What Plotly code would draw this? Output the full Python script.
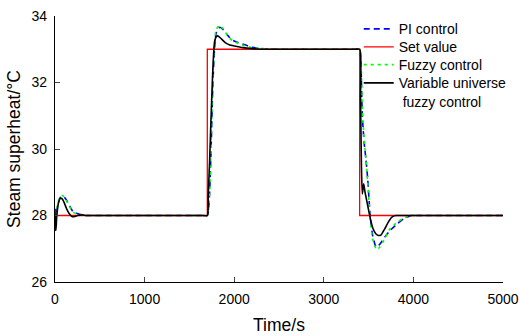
import plotly.graph_objects as go

# Set value
set_t = [0, 1700, 1700, 3400, 3400, 5000]
set_y = [28, 28, 33, 33, 28, 28]

# PI control
pi_t = [0, 10, 30, 60, 90, 120, 160, 200, 250, 300, 350, 400, 500, 1600, 1650, 1700,
        1720, 1740, 1760, 1780, 1800, 1840, 1880, 1950, 2000, 2100, 2200, 2300, 2400, 2500, 3300, 3350, 3400,
        3415, 3430, 3450, 3470, 3490, 3515, 3545, 3585, 3620, 3680, 3740, 3820, 3890, 3980, 4050, 4150, 5000]
pi_y = [28.0, 27.9, 28.3, 28.55, 28.57, 28.5, 28.3, 28.12, 28.06, 28.02, 28.0, 28.0, 28.0, 28.0, 28.0, 28.0,
        28.4, 29.8, 31.8, 33.0, 33.5, 33.66, 33.58, 33.35, 33.25, 33.15, 33.06, 33.02, 33.0, 33.0, 33.0, 33.0, 33.0,
        32.5, 31.0, 30.2, 29.7, 29.1, 28.1, 27.4, 27.05, 27.12, 27.35, 27.55, 27.75, 27.9, 28.0, 28.0, 28.0, 28.0]

# Fuzzy control
fz_t = [0, 10, 30, 60, 85, 120, 160, 200, 250, 300, 350, 400, 500, 1600, 1650, 1700,
        1720, 1740, 1760, 1780, 1800, 1840, 1880, 1950, 2000, 2100, 2200, 2300, 2400, 2500, 3300, 3350, 3400,
        3415, 3430, 3450, 3470, 3490, 3515, 3545, 3590, 3625, 3680, 3740, 3820, 3890, 3980, 4050, 4150, 5000]
fz_y = [28.0, 27.9, 28.35, 28.58, 28.6, 28.48, 28.28, 28.1, 28.05, 28.02, 28.0, 28.0, 28.0, 28.0, 28.0, 28.0,
        28.4, 29.9, 32.0, 33.2, 33.6, 33.72, 33.6, 33.33, 33.23, 33.12, 33.05, 33.02, 33.0, 33.0, 33.0, 33.0, 33.0,
        32.6, 31.2, 30.3, 29.7, 29.0, 28.0, 27.3, 26.97, 27.05, 27.3, 27.6, 27.8, 27.92, 28.0, 28.0, 28.0, 28.0]

# Variable universe fuzzy control
vu_t = [0, 5, 10, 20, 40, 60, 80, 100, 130, 160, 190, 220, 250, 300, 350, 400, 500, 1600, 1650, 1700,
        1710, 1725, 1740, 1760, 1780, 1800, 1820, 1850, 1900, 1950, 2000, 2100, 2200, 2300, 2400, 2500, 3300, 3350, 3400,
        3410, 3420, 3430, 3445, 3460, 3490, 3520, 3550, 3580, 3610, 3640, 3680, 3720, 3760, 3800, 3850, 3900, 4000, 5000]
vu_y = [28.2, 27.6, 27.55, 28.0, 28.4, 28.52, 28.5, 28.4, 28.2, 28.05, 27.97, 27.97, 28.0, 28.02, 28.0, 28.0, 28.0, 28.0, 28.0, 28.0,
        28.6, 29.6, 30.8, 32.3, 33.2, 33.38, 33.4, 33.33, 33.2, 33.13, 33.1, 33.05, 33.02, 33.0, 33.0, 33.0, 33.0, 33.0, 33.0,
        31.5, 29.5, 28.65, 28.95, 28.7, 28.3, 27.9, 27.6, 27.45, 27.4, 27.42, 27.6, 27.8, 27.95, 28.0, 28.0, 28.0, 28.0, 28.0]

x_ticks = [0, 1000, 2000, 3000, 4000, 5000]
y_ticks = [26, 28, 30, 32, 34]

fig = go.Figure()
fig.add_trace(go.Scatter(x=pi_t, y=pi_y, mode="lines", name="PI control", legend="legend",
                         line=dict(color="#0000ff", width=1.6, dash="6px,4px", shape="spline", smoothing=0.6)))
fig.add_trace(go.Scatter(x=set_t, y=set_y, mode="lines", name="Set value", legend="legend2",
                         line=dict(color="#ff0000", width=1.3)))
fig.add_trace(go.Scatter(x=fz_t, y=fz_y, mode="lines", name="Fuzzy control", legend="legend3",
                         line=dict(color="#00ff00", width=1.6, dash="3px,4px", shape="spline", smoothing=0.6)))
fig.add_trace(go.Scatter(x=vu_t, y=vu_y, mode="lines", name="Variable universe<br> fuzzy control", legend="legend4",
                         line=dict(color="#000000", width=1.6, shape="spline", smoothing=0.6)))

font_family = "Arial, Liberation Sans, sans-serif"
H = 266.0
def leg(ypx):
    # legend box top in paper coords from pixel position (plot area top at 16px)
    return dict(x=0.678, y=1 - (ypx - 16) / H, xanchor="left", yanchor="top", valign="top",
                bgcolor="rgba(0,0,0,0)", font=dict(size=14), tracegroupgap=0)

fig.update_layout(
    width=519, height=336,
    margin=dict(l=55, r=16, t=16, b=54, autoexpand=False),
    paper_bgcolor="white", plot_bgcolor="white",
    font=dict(family=font_family, size=14, color="black"),
    showlegend=True,
    legend=leg(13.3), legend2=leg(31.3), legend3=leg(49.0), legend4=leg(67.3),
    xaxis=dict(range=[0, 5000], tickvals=x_ticks, ticks="inside", ticklen=5,
               showline=True, linecolor="black", linewidth=1.3, mirror=False,
               showgrid=False, zeroline=False, automargin=False, ticklabelstandoff=4,
               title=dict(text="Time/s", font=dict(size=17.5), standoff=12)),
    yaxis=dict(range=[26, 34], tickvals=y_ticks, ticks="inside", ticklen=5,
               showline=True, linecolor="black", linewidth=1.3, mirror=False,
               showgrid=False, zeroline=False, automargin=False, ticklabelstandoff=4,
               title=dict(text="Steam superheat/°C", font=dict(size=17.5), standoff=6)),
)

fig.write_html("out.html", config={"displayModeBar": False},
               post_script="document.body.style.margin='0';document.body.style.padding='0';")
